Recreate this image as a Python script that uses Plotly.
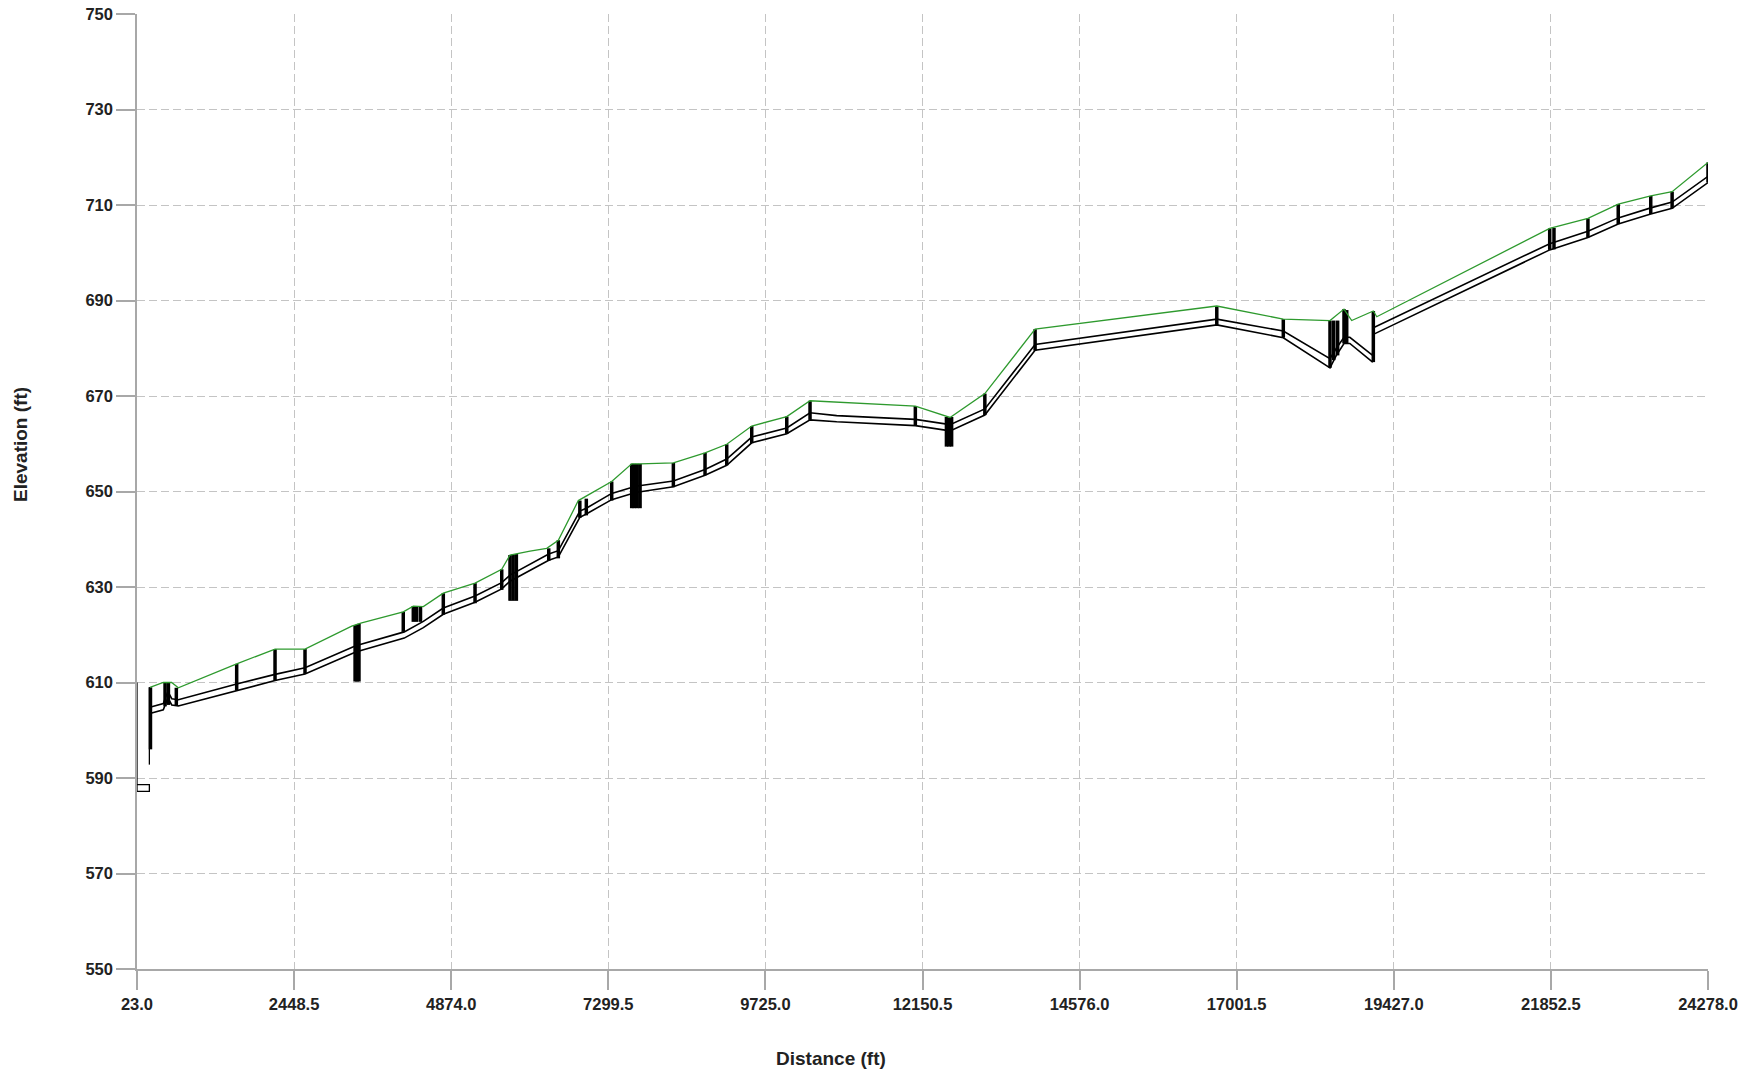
import plotly.graph_objects as go

# ---------------- data ----------------
# Ground / rim profile (green)
RIM_DIST = [224, 429, 558, 661, 1562, 2154, 2617, 3338, 3492, 4134, 4289, 4444,
            4752, 5242, 5654, 5782, 6091, 6349, 6528, 6837, 7352, 7661, 7790,
            8304, 8793, 9128, 9514, 10055, 10414, 10723, 11193, 12040, 12576,
            13113, 13889, 16694, 17721, 18442, 18658, 18777, 19111, 19164,
            21834, 22424, 22892, 23394, 23724, 24278]
RIM_ELEV = [609.0, 610.0, 610.0, 608.9, 613.9, 617.0, 617.0, 621.8, 622.5, 624.8,
            626.0, 625.9, 628.7, 630.8, 633.7, 636.7, 637.5, 638.1, 639.8, 648.1,
            652.1, 655.8, 655.8, 656.0, 658.1, 659.9, 663.7, 665.7, 669.0, 668.8,
            668.6, 667.9, 665.5, 670.5, 684.0, 688.85, 686.1, 685.8, 688.2, 685.8,
            687.8, 686.6, 705.1, 707.2, 710.2, 711.9, 712.8, 718.9]

# Pipe invert and crown profile (black)
PIPE_DIST = [250, 429, 500, 560, 661, 1562, 2154, 2617, 3400, 4149, 4444, 4752,
             5242, 5654, 5782, 6380, 6528, 6860, 6960, 7352, 7721, 8304, 8793,
             9128, 9514, 10055, 10414, 10826, 12040, 12576, 13113, 13889, 16694,
             17721, 18442, 18540, 18658, 18748, 19100, 19111, 21834, 22424,
             22892, 23394, 23724, 24278]
PIPE_INVERT = [603.6, 604.3, 606.8, 605.3, 605.1, 608.3, 610.4, 611.8, 616.4,
               619.3, 621.5, 624.3, 626.8, 629.6, 631.2, 635.6, 636.3, 644.6,
               645.3, 648.3, 649.8, 651.0, 653.4, 655.5, 660.2, 662.1, 665.0,
               664.6, 663.8, 662.7, 666.0, 679.6, 684.9, 682.2, 675.9, 678.5,
               681.0, 681.0, 677.1, 682.9, 700.6, 703.2, 706.0, 708.1, 709.3,
               714.7]
PIPE_CROWN = [604.9, 605.6, 608.1, 606.6, 606.4, 609.7, 611.7, 613.1, 617.7,
              620.6, 622.8, 625.6, 628.1, 630.9, 632.5, 636.9, 637.6, 645.9,
              646.5, 649.6, 651.1, 652.2, 654.6, 656.8, 661.4, 663.3, 666.5,
              665.9, 665.1, 664.0, 667.3, 680.8, 686.1, 683.6, 677.8, 680.0,
              682.3, 682.3, 678.5, 684.3, 701.9, 704.5, 707.3, 709.4, 710.6,
              716.0]

# Manholes: distance, rim elevation, bottom elevation
MH_DIST = [231, 456, 508, 630, 1562, 2154, 2617, 3390, 3420, 3450,
           4134, 4289, 4340, 4400, 4752, 5242, 5654, 5782, 5830, 5880,
           6380, 6528, 6860, 6960, 7352, 7661, 7700, 7745, 7790, 8304, 8793,
           9128, 9514, 10055, 10414, 12040, 12520, 12560, 12600, 13113, 13889,
           16694, 17721, 18442, 18500, 18560, 18658, 18700, 19111, 21834,
           21900, 22424, 22892, 23394, 23724, 24278]
MH_TOP = [609.0, 610.0, 610.0, 608.9, 613.9, 617.0, 617.0, 622.0, 622.1,
          622.3, 624.8, 626.0, 626.0, 626.0, 628.7, 630.8, 633.7,
          636.7, 636.8, 636.9, 638.1, 639.8, 648.1, 648.5, 652.1, 655.8,
          655.8, 655.8, 655.8, 656.0, 658.1, 659.9, 663.7, 665.7, 669.0,
          667.9, 665.6, 665.5, 665.6, 670.5, 684.0, 688.85, 686.1, 685.8,
          685.8, 685.8, 688.2, 688.0, 687.8, 705.1, 705.2, 707.2, 710.2,
          711.9, 712.8, 718.9]
MH_BOTTOM = [596.0, 605.0, 605.3, 605.1, 608.3, 610.4, 611.8, 610.2, 610.2,
             610.2, 620.6, 622.7, 622.7, 622.7, 624.2, 626.6, 629.4,
             627.1, 627.1, 627.1, 635.5, 636.0, 644.5, 645.0, 648.1, 646.5,
             646.5, 646.5, 646.5, 650.9, 653.4, 655.5, 660.1, 662.1, 665.0,
             663.8, 659.4, 659.4, 659.4, 666.0, 679.5, 684.7, 682.2, 675.9,
             677.5, 678.5, 681.0, 681.0, 677.1, 700.6, 700.7, 703.2, 706.0,
             708.1, 709.3, 714.7]

# Outlet structure at the downstream end
OUTLET_DIST = [23, 23, 214, 214, 23]
OUTLET_ELEV = [610.0, 587.2, 587.2, 588.6, 588.6]
OUTLET_RISER_DIST = [214, 214]
OUTLET_RISER_ELEV = [609.0, 592.8]

X_TICKS = [23.0, 2448.5, 4874.0, 7299.5, 9725.0, 12150.5, 14576.0, 17001.5,
           19427.0, 21852.5, 24278.0]
Y_TICKS = [550, 570, 590, 610, 630, 650, 670, 690, 710, 730, 750]

# ---------------- figure ----------------
fig = go.Figure()

# manhole verticals
mx, my = [], []
for d, t, b in zip(MH_DIST, MH_TOP, MH_BOTTOM):
    mx += [d, d, None]
    my += [t, b, None]
fig.add_trace(go.Scatter(x=mx, y=my, mode="lines",
                         line=dict(color="black", width=3.5),
                         hoverinfo="skip", showlegend=False, cliponaxis=False))

fig.add_trace(go.Scatter(x=OUTLET_DIST, y=OUTLET_ELEV, mode="lines",
                         line=dict(color="black", width=1.3),
                         showlegend=False, cliponaxis=False))
fig.add_trace(go.Scatter(x=OUTLET_RISER_DIST, y=OUTLET_RISER_ELEV, mode="lines",
                         line=dict(color="black", width=1.3),
                         showlegend=False, cliponaxis=False))

fig.add_trace(go.Scatter(x=PIPE_DIST, y=PIPE_INVERT, mode="lines",
                         line=dict(color="black", width=1.6),
                         name="Invert", showlegend=False))
fig.add_trace(go.Scatter(x=PIPE_DIST, y=PIPE_CROWN, mode="lines",
                         line=dict(color="black", width=1.6),
                         name="Crown", showlegend=False))
fig.add_trace(go.Scatter(x=RIM_DIST, y=RIM_ELEV, mode="lines",
                         line=dict(color="#2e9a2e", width=1.3),
                         name="Ground", showlegend=False))

FONT = "Liberation Sans, Arial, sans-serif"
tick_font = dict(family=FONT, size=16.5, color="#222222", weight="bold")

axis_common = dict(
    showgrid=True, gridcolor="#c4c4c4", griddash="8px,4px", gridwidth=1,
    showline=True, linecolor="#a8a8a8", linewidth=1.5,
    ticks="outside", ticklen=19, tickcolor="#a8a8a8", tickwidth=1.5,
    tickfont=tick_font, zeroline=False, layer="below traces",
    automargin=False,
)

# plot area placed at x 137..1708, y 14..969 of the window
fig.update_layout(
    width=1761, height=1074,
    margin=dict(l=137, r=53, t=14, b=105),
    paper_bgcolor="white", plot_bgcolor="white",
    showlegend=False,
    xaxis=dict(range=[23, 24278], tickmode="array", tickvals=X_TICKS,
               ticktext=[f"{v:.1f}" for v in X_TICKS], **axis_common),
    yaxis=dict(range=[550, 750], tickmode="array", tickvals=Y_TICKS,
               ticktext=[str(v) for v in Y_TICKS], **axis_common),
    annotations=[
        dict(text="Distance (ft)", xref="paper", yref="paper",
             x=0.4418, y=-0.0932, xanchor="center", yanchor="middle",
             showarrow=False,
             font=dict(family=FONT, size=19, color="#222222", weight="bold")),
        dict(text="Elevation (ft)", xref="paper", yref="paper",
             x=-0.0745, y=0.5497, xanchor="center", yanchor="middle",
             textangle=-90, showarrow=False,
             font=dict(family=FONT, size=19, color="#222222", weight="bold")),
    ],
)

# remove the default page margin and keep the page exactly window-sized
fig.write_html(
    "out.html",
    config={"displayModeBar": False},
    post_script=(
        "document.documentElement.style.margin='0';"
        "document.documentElement.style.overflow='hidden';"
        "document.documentElement.style.height='1074px';"
        "document.body.style.margin='0';"
        "document.body.style.overflow='hidden';"
        "document.body.style.height='1074px';"
    ),
)
